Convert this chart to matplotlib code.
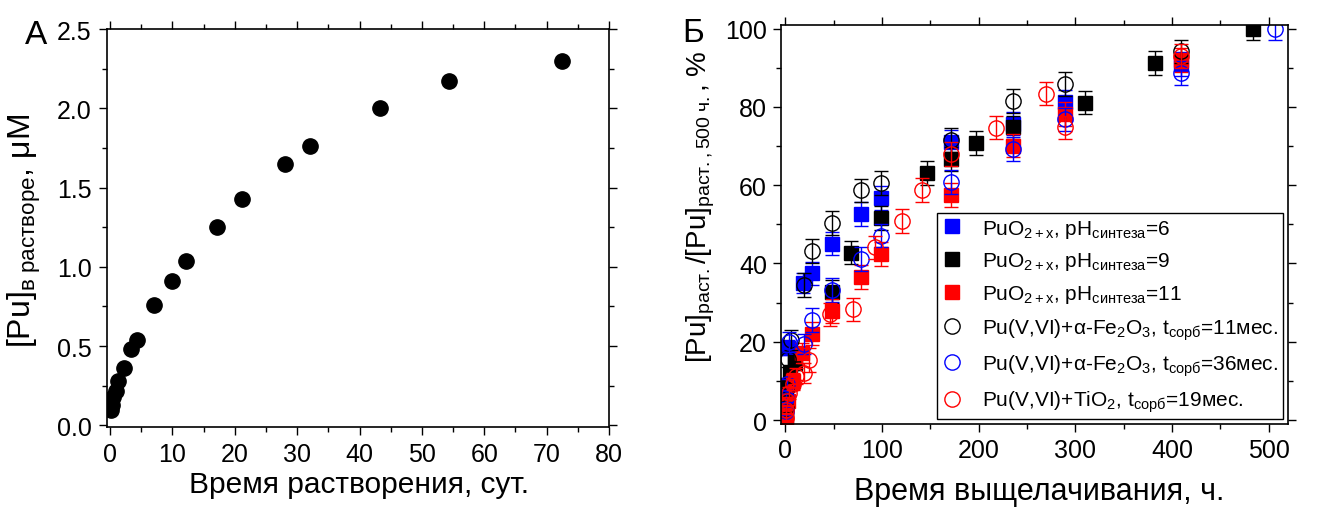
import matplotlib
matplotlib.use('Agg')
import matplotlib.pyplot as plt
from matplotlib.ticker import MultipleLocator, FormatStrFormatter

plt.rcParams['font.family'] = ['Liberation Sans', 'DejaVu Sans']
plt.rcParams['mathtext.fontset'] = 'custom'
plt.rcParams['mathtext.rm'] = 'Liberation Sans'
plt.rcParams['mathtext.it'] = 'Liberation Sans:italic'
plt.rcParams['mathtext.bf'] = 'Liberation Sans:bold'
plt.rcParams['mathtext.default'] = 'regular'

# ---------------- Panel A data ----------------
days = [0.1, 0.3, 0.5, 1.0, 1.3, 2.2, 3.3, 4.3, 7.1, 9.9, 12.1, 17.1, 21.2, 28.1, 32.0, 43.3, 54.3, 72.4]
pu_conc = [0.10, 0.13, 0.18, 0.22, 0.28, 0.36, 0.48, 0.54, 0.76, 0.91, 1.04, 1.25, 1.43, 1.65, 1.76, 2.00, 2.175, 2.30]

# ---------------- Panel B data ----------------
blue_sq_x = [0.5, 1, 3, 18, 28, 48, 78, 99, 171, 236, 289, 409]
blue_sq_y = [3, 8, 18.5, 35, 37.5, 45.1, 52.6, 56.7, 71, 75.7, 81.2, 91]
blue_sq_e = [1, 1.5, 2, 2.5, 3, 3, 3, 3, 3, 3, 3, 3]

black_sq_x = [0.5, 1, 2, 5, 10, 48, 68, 99, 147, 171, 197, 236, 310, 382, 484]
black_sq_y = [1, 5, 9, 12, 14.7, 32.8, 42.8, 51.6, 63.1, 66.7, 70.8, 74.8, 81.1, 91.2, 100]
black_sq_e = [1, 1, 1.5, 2, 2, 3, 3, 3, 3, 3, 3, 3, 3, 3, 3]

red_sq_x = [0.5, 1, 3, 8, 17, 28, 48, 78, 99, 171, 236, 289, 409]
red_sq_y = [0.5, 2, 5, 10, 17.2, 22.1, 27.9, 36.6, 42.4, 57.5, 70.1, 78.2, 92]
red_sq_e = [1, 1, 1.5, 2, 2.5, 3, 3, 3, 3, 3, 3, 3, 3]

blk_c_x = [0.5, 1, 3, 6, 19, 28, 48, 78, 99, 171, 236, 289, 409]
blk_c_y = [3, 8, 15.5, 20.5, 34.5, 43.2, 50.3, 58.7, 60.6, 71.6, 81.5, 85.8, 94.2]
blk_c_e = [1, 1.5, 2, 2.5, 3, 3, 3, 3, 3, 3, 3, 3, 3]

blu_c_x = [0.5, 1, 2, 4, 19, 28, 48, 78, 99, 171, 236, 289, 409, 507]
blu_c_y = [2.4, 5.7, 9.1, 20, 19.4, 25.6, 33.2, 41.1, 47.1, 60.8, 69.3, 76.8, 88.7, 100]
blu_c_e = [1, 1, 1.5, 2.5, 2.5, 3, 3, 3, 3, 3, 3, 3, 3, 3]

red_c_x = [0.5, 1, 2, 4, 7.6, 11, 19.7, 24.5, 46.2, 70.3, 92.8, 120.3, 141, 171, 218.3, 269.3, 289, 409]
red_c_y = [0.5, 2.7, 4.9, 7, 9.1, 11.3, 12.1, 15.4, 27, 28.3, 44.1, 50.8, 58.8, 68, 74.7, 83.4, 74.8, 93]
red_c_e = [1, 1, 1, 1.5, 1.5, 2, 2.5, 3, 3, 3, 3, 3, 3, 3, 3, 3, 3, 3]

labels = [
    r'PuO$_{2+x}$, pH$_{\mathrm{синтеза}}$=6',
    r'PuO$_{2+x}$, pH$_{\mathrm{синтеза}}$=9',
    r'PuO$_{2+x}$, pH$_{\mathrm{синтеза}}$=11',
    r'Pu(V,VI)+$\alpha$-Fe$_{2}$O$_{3}$, t$_{\mathrm{сорб}}$=11мес.',
    r'Pu(V,VI)+$\alpha$-Fe$_{2}$O$_{3}$, t$_{\mathrm{сорб}}$=36мес.',
    r'Pu(V,VI)+TiO$_{2}$, t$_{\mathrm{сорб}}$=19мес.',
]

W, H = 1327, 510
fig = plt.figure(figsize=(W / 100, H / 100), dpi=100)
axA = fig.add_axes([107 / W, 1 - 428 / H, (609 - 107) / W, (428 - 30) / H])
axB = fig.add_axes([781 / W, 1 - 425 / H, (1288 - 781) / W, (425 - 25.7) / H])

# ---------------- Panel A ----------------
axA.plot(days, pu_conc, 'o', color='black', ms=11, mec='black')
axA.set_xlim(-0.5, 80)
axA.set_ylim(-0.01, 2.5)
axA.xaxis.set_major_locator(MultipleLocator(10))
axA.xaxis.set_minor_locator(MultipleLocator(5))
axA.yaxis.set_major_locator(MultipleLocator(0.5))
axA.yaxis.set_minor_locator(MultipleLocator(0.25))
axA.yaxis.set_major_formatter(FormatStrFormatter('%.1f'))

# ---------------- Panel B ----------------
series = [
    (blue_sq_x, blue_sq_y, blue_sq_e, 's', 'blue', True),
    (black_sq_x, black_sq_y, black_sq_e, 's', 'black', True),
    (red_sq_x, red_sq_y, red_sq_e, 's', 'red', True),
    (blk_c_x, blk_c_y, blk_c_e, 'o', 'black', False),
    (blu_c_x, blu_c_y, blu_c_e, 'o', 'blue', False),
    (red_c_x, red_c_y, red_c_e, 'o', 'red', False),
]
handles = []
for (x, y, e, m, c, filled), lab in zip(series, labels):
    axB.errorbar(x, y, yerr=e, fmt='none', ecolor=c, elinewidth=1.0, capsize=5, capthick=1.0)
    if filled:
        h, = axB.plot(x, y, m, ms=10, mfc=c, mec=c, mew=1.0, ls='none', label=lab)
    else:
        h, = axB.plot(x, y, m, ms=11, mfc='none', mec=c, mew=1.0, ls='none', label=lab)
    handles.append(h)

axB.set_xlim(-4.5, 520)
axB.set_ylim(-1, 101)
axB.xaxis.set_major_locator(MultipleLocator(100))
axB.xaxis.set_minor_locator(MultipleLocator(50))
axB.yaxis.set_major_locator(MultipleLocator(20))
axB.yaxis.set_minor_locator(MultipleLocator(10))

leg = axB.legend(handles=handles, loc='lower right', fontsize=15, frameon=True, fancybox=False,
                 framealpha=1, edgecolor='black', borderaxespad=0.25, labelspacing=0.52,
                 handlelength=1.0, handletextpad=0.95, borderpad=0.22)
leg.get_frame().set_linewidth(1.0)

for ax in (axA, axB):
    ax.tick_params(which='both', direction='out', top=True, right=True,
                   labeltop=False, labelright=False, width=1.0, labelsize=18, pad=5)
    ax.tick_params(which='major', length=6)
    ax.tick_params(which='minor', length=3.5)
    for sp in ax.spines.values():
        sp.set_linewidth(1.2)
axB.tick_params(which='both', pad=4)

# ---------------- Labels ----------------
fig.text(359 / W, 1 - 493 / H, 'Время растворения, сут.', ha='center', va='baseline', fontsize=21.5)
fig.text(1039 / W, 1 - 500 / H, 'Время выщелачивания, ч.', ha='center', va='baseline', fontsize=22)
fig.text(24 / W, 1 - 231 / H, r'[Pu]$_{\mathrm{в\ растворе}}$, μM', rotation=90,
         ha='center', va='center', fontsize=23)
fig.text(701 / W, 1 - 207 / H, r'[Pu]$_{\mathrm{раст.}}$/[Pu]$_{\mathrm{раст.,500\ ч.}}$, %', rotation=90,
         ha='center', va='center', fontsize=20)
fig.text(25 / W, 1 - 44 / H, 'А', ha='left', va='baseline', fontsize=24)
fig.text(682 / W, 1 - 42 / H, 'Б', ha='left', va='baseline', fontsize=24)

fig.savefig('out.png', dpi=100)
